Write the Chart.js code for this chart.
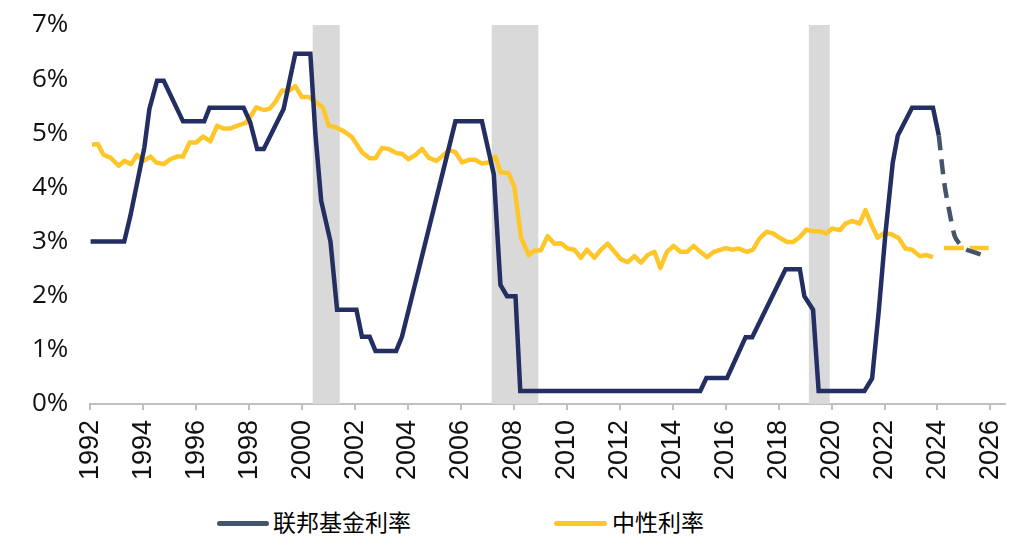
<!DOCTYPE html>
<html>
<head>
<meta charset="utf-8">
<script src="https://cdn.jsdelivr.net/npm/chart.js@4.4.1/dist/chart.umd.min.js"></script>
<style>
  html, body { margin: 0; padding: 0; background: #ffffff; }
  #wrap { position: relative; width: 1022px; height: 552px; overflow: hidden; }
  #chartBox { position: absolute; left: 0; top: 0; width: 1022px; height: 495px; }
  .leg { position: absolute; font-family: "Noto Sans CJK SC", sans-serif; font-size: 23px; color: #000; line-height: 30px; white-space: nowrap; }
  .legLine { position: absolute; height: 5px; border-radius: 3px; }
</style>
</head>
<body>
<div id="wrap">
  <div id="chartBox"><canvas id="c"></canvas></div>
  <div class="legLine" style="left:217px; top:521px; width:52px; background:#44546A;"></div>
  <div class="leg" id="leg1" style="left:273px; top:506px;">联邦基金利率</div>
  <div class="legLine" style="left:554px; top:521px; width:53px; background:#FFC629;"></div>
  <div class="leg" id="leg2" style="left:612px; top:506px;">中性利率</div>
</div>
<script>
// ---------------- DATA ----------------
const seriesNames = ["联邦基金利率", "中性利率"];

const xTickYears = [1992,1994,1996,1998,2000,2002,2004,2006,2008,2010,2012,2014,2016,2018,2020,2022,2024,2026];
const yTickValues = [0,1,2,3,4,5,6,7];

// Recession shading (start / end, decimal years)
const recessionStart = [2000.40, 2007.16, 2019.14];
const recessionEnd   = [2001.42, 2008.92, 2019.93];

// Federal funds rate (actual)
const fedX = [1992.00,1993.28,1993.51,1993.82,1994.04,1994.23,1994.52,1994.77,1995.50,1996.30,1996.50,1997.79,1998.04,1998.30,1998.55,1999.30,1999.74,2000.31,2000.50,2000.72,2001.07,2001.32,2002.05,2002.26,2002.55,2002.77,2003.55,2003.77,2004.34,2005.79,2006.79,2007.24,2007.49,2007.74,2008.06,2008.24,2015.04,2015.27,2016.05,2016.75,2017.00,2018.26,2018.80,2018.97,2019.30,2019.51,2021.24,2021.53,2021.78,2022.03,2022.31,2022.50,2023.04,2023.83,2024.05];
const fedY = [3.00,3.00,3.47,4.21,4.74,5.45,5.97,5.97,5.22,5.22,5.47,5.47,5.20,4.71,4.71,5.45,6.47,6.47,4.99,3.75,3.00,1.74,1.74,1.24,1.24,0.98,0.98,1.24,2.36,5.22,5.22,4.24,2.20,1.99,1.99,0.24,0.24,0.48,0.48,1.23,1.23,2.49,2.49,1.99,1.74,0.24,0.24,0.47,1.71,3.13,4.46,4.96,5.47,5.47,4.96];

// Federal funds rate (projection, dashed)
const fedFcstX = [2024.05,2024.25,2024.47,2024.65,2024.80,2025.06,2025.40,2025.75,2025.93];
const fedFcstY = [4.96,4.10,3.50,3.10,2.98,2.86,2.80,2.75,2.78];

// Neutral rate (estimate)
const neutralX = [1992.06,1992.28,1992.50,1992.76,1993.07,1993.28,1993.54,1993.76,1994.01,1994.27,1994.49,1994.77,1995.02,1995.27,1995.50,1995.75,1996.00,1996.26,1996.53,1996.79,1997.01,1997.29,1997.56,1997.86,1998.04,1998.27,1998.55,1998.77,1998.99,1999.24,1999.49,1999.74,1999.99,2000.25,2000.50,2000.79,2001.00,2001.26,2001.57,2001.88,2002.26,2002.55,2002.77,2003.02,2003.27,2003.58,2003.77,2004.02,2004.28,2004.53,2004.78,2005.07,2005.32,2005.54,2005.79,2006.04,2006.29,2006.54,2006.79,2007.04,2007.30,2007.49,2007.80,2008.02,2008.27,2008.56,2008.77,2009.02,2009.27,2009.53,2009.78,2010.03,2010.28,2010.53,2010.76,2011.04,2011.29,2011.54,2011.80,2012.05,2012.30,2012.55,2012.80,2013.05,2013.31,2013.53,2013.78,2014.03,2014.29,2014.54,2014.79,2015.04,2015.30,2015.55,2015.99,2016.24,2016.49,2016.81,2017.03,2017.28,2017.54,2017.79,2018.07,2018.32,2018.54,2018.79,2019.05,2019.30,2019.55,2019.80,2020.02,2020.31,2020.52,2020.77,2021.06,2021.28,2021.49,2021.74,2021.99,2022.28,2022.54,2022.79,2023.04,2023.33,2023.58,2023.83];
const neutralY = [4.79,4.80,4.60,4.55,4.40,4.49,4.43,4.60,4.49,4.57,4.46,4.43,4.52,4.57,4.57,4.83,4.83,4.94,4.85,5.14,5.09,5.09,5.14,5.19,5.30,5.48,5.43,5.45,5.58,5.79,5.78,5.87,5.67,5.67,5.58,5.47,5.14,5.11,5.04,4.93,4.65,4.54,4.54,4.73,4.71,4.63,4.62,4.52,4.60,4.71,4.55,4.49,4.59,4.69,4.65,4.46,4.51,4.51,4.44,4.46,4.57,4.28,4.26,4.00,3.07,2.75,2.83,2.84,3.10,2.96,2.97,2.87,2.85,2.70,2.85,2.70,2.85,2.96,2.81,2.67,2.62,2.73,2.61,2.75,2.81,2.51,2.81,2.92,2.81,2.81,2.92,2.81,2.71,2.81,2.88,2.85,2.87,2.81,2.85,3.06,3.18,3.15,3.06,2.99,2.99,3.08,3.22,3.19,3.19,3.15,3.24,3.21,3.33,3.38,3.33,3.58,3.33,3.07,3.16,3.13,3.06,2.87,2.85,2.73,2.75,2.71];

// Neutral rate (projection, dashed)
const neutralFcstX = [2024.24, 2025.93];
const neutralFcstY = [2.88, 2.88];

// ---------------- COLOURS ----------------
const fedColor = "#232E63";
const fedFcstColor = "#44546A";
const neutralColor = "#FFC629";
const bandColor = "#D9D9D9";
const axisColor = "#BFBFBF";

const toPts = (xs, ys) => xs.map((x, i) => ({ x: x, y: ys[i] }));

const recessionPlugin = {
  id: "recessions",
  beforeDatasetsDraw(chart) {
    const { ctx, scales: { x, y } } = chart;
    ctx.save();
    ctx.fillStyle = bandColor;
    for (let i = 0; i < recessionStart.length; i++) {
      const x0 = x.getPixelForValue(recessionStart[i]);
      const x1 = x.getPixelForValue(recessionEnd[i]);
      const y0 = y.getPixelForValue(7);
      const y1 = y.getPixelForValue(0);
      ctx.fillRect(x0, y0, x1 - x0, y1 - y0);
    }
    ctx.restore();
  }
};

new Chart(document.getElementById("c"), {
  type: "line",
  data: {
    datasets: [
      { label: seriesNames[1], data: toPts(neutralX, neutralY), borderColor: neutralColor, borderWidth: 4.5, pointRadius: 0, tension: 0, borderJoinStyle: "round", order: 2 },
      { label: seriesNames[1] + " (预测)", data: toPts(neutralFcstX, neutralFcstY), borderColor: neutralColor, borderWidth: 4.5, borderDash: [20, 6], pointRadius: 0, tension: 0, order: 2 },
      { label: seriesNames[0], data: toPts(fedX, fedY), borderColor: fedColor, borderWidth: 4.5, pointRadius: 0, tension: 0, borderJoinStyle: "miter", order: 1 },
      { label: seriesNames[0] + " (预测)", data: toPts(fedFcstX, fedFcstY), borderColor: fedFcstColor, borderWidth: 4.5, borderDash: [15, 9], pointRadius: 0, tension: 0.3, order: 1 }
    ]
  },
  options: {
    responsive: true,
    maintainAspectRatio: false,
    animation: false,
    layout: { padding: { left: 10, right: 17, top: 25, bottom: 5 } },
    plugins: { legend: { display: false }, tooltip: { enabled: false } },
    scales: {
      x: {
        type: "linear",
        min: 1992,
        max: 2026.55,
        afterBuildTicks: (axis) => { axis.ticks = xTickYears.map(v => ({ value: v })); },
        afterFit: (s) => { s.paddingRight = 0; },
        grid: { display: true, drawOnChartArea: false, drawTicks: true, tickLength: 6, color: axisColor, lineWidth: 2 },
        border: { display: true, color: axisColor, width: 2 },
        ticks: {
          autoSkip: false, minRotation: 90, maxRotation: 90, padding: 10,
          color: "#111111",
          font: { family: "'Liberation Sans', Arial, sans-serif", size: 27 },
          callback: (v) => String(v)
        }
      },
      y: {
        min: 0,
        max: 7,
        afterBuildTicks: (axis) => { axis.ticks = yTickValues.map(v => ({ value: v })); },
        afterFit: (s) => { s.paddingTop = 0; s.paddingBottom = 0; },
        grid: { display: false, drawTicks: false, tickLength: 0 },
        border: { display: false },
        ticks: {
          padding: 22,
          color: "#111111",
          font: { family: "'Open Sans', sans-serif", size: 26 },
          callback: (v) => v + "%"
        }
      }
    }
  },
  plugins: [recessionPlugin]
});
</script>
</body>
</html>
